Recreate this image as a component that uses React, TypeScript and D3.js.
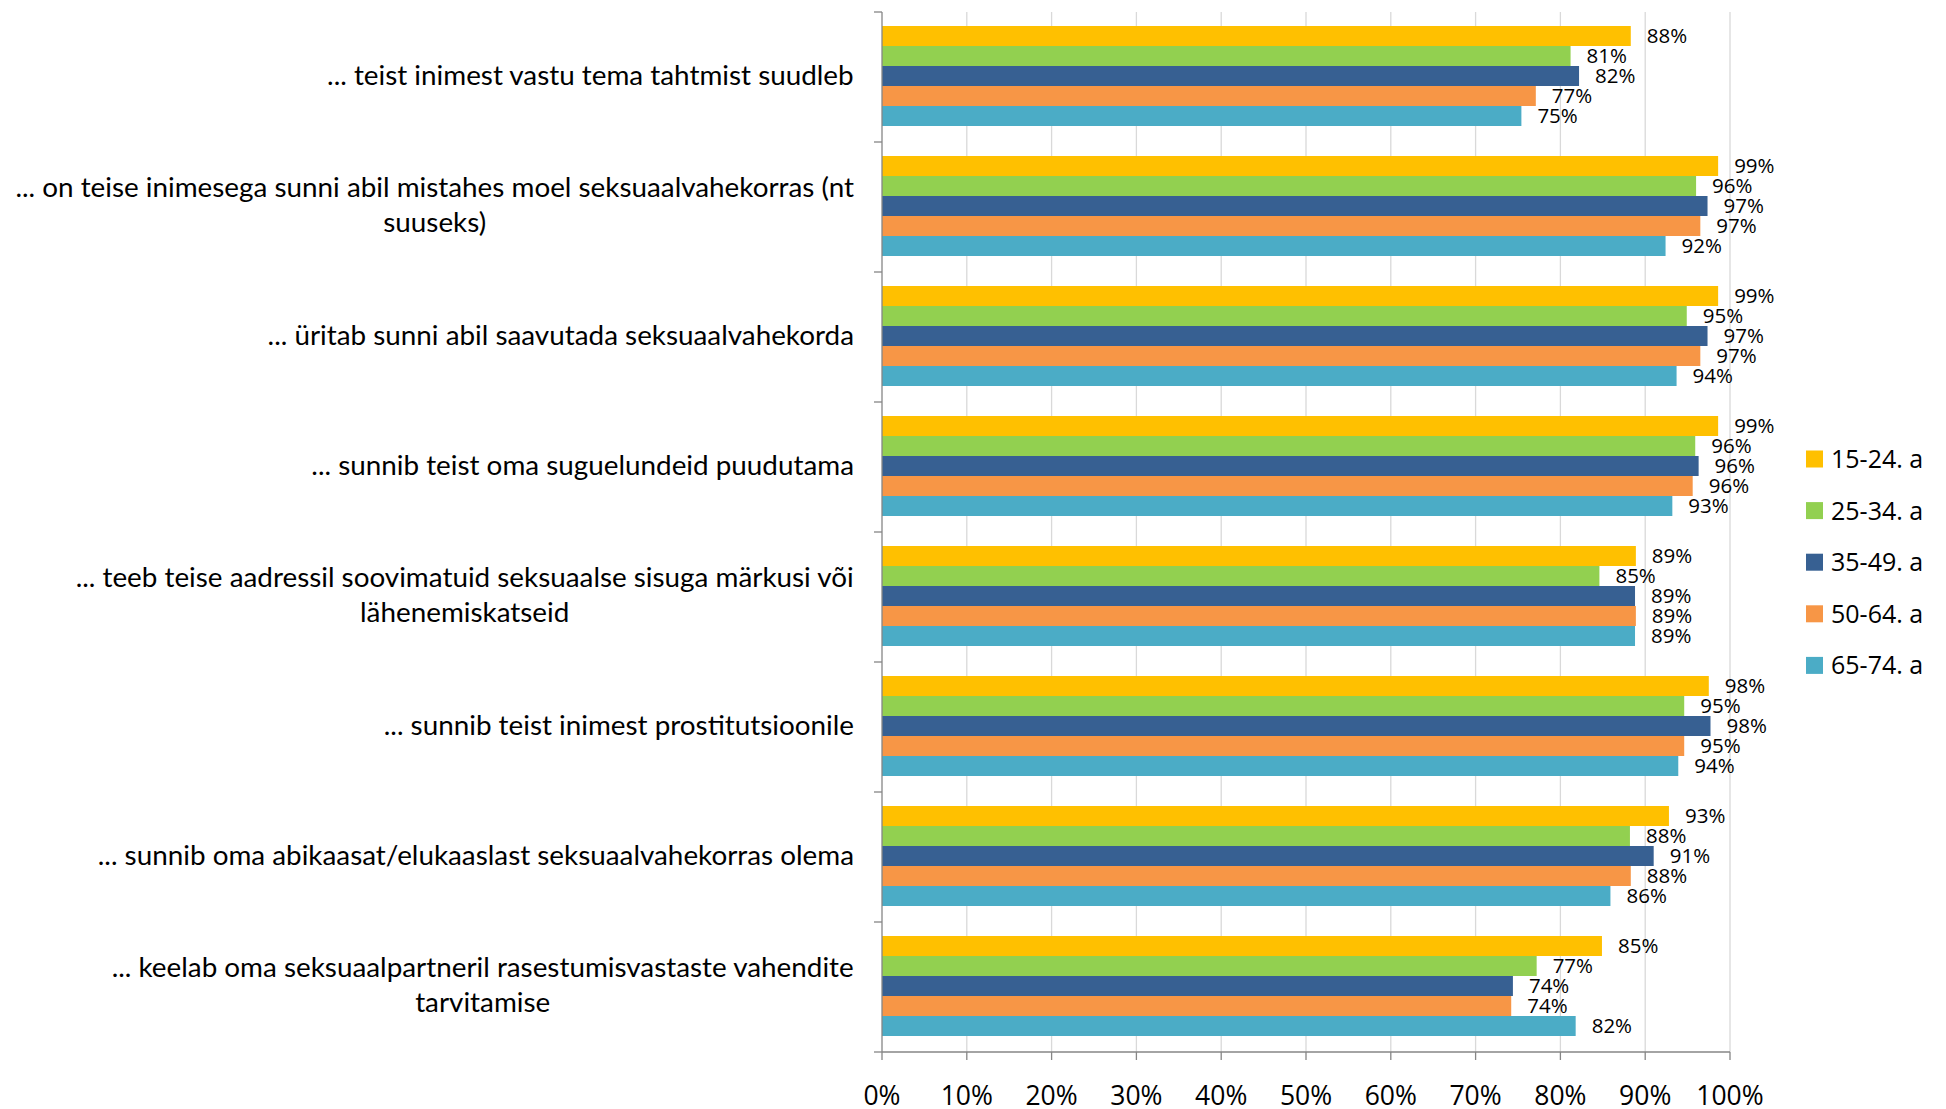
import React, { useMemo } from "react";
import * as d3 from "d3";

const categories: string[][] = [
  ["... teist inimest vastu tema tahtmist suudleb"],
  ["... on teise inimesega sunni abil mistahes moel seksuaalvahekorras (nt", "suuseks)"],
  ["... üritab sunni abil saavutada seksuaalvahekorda"],
  ["... sunnib teist oma suguelundeid puudutama"],
  ["... teeb teise aadressil soovimatuid seksuaalse sisuga märkusi või", "lähenemiskatseid"],
  ["... sunnib teist inimest prostitutsioonile"],
  ["... sunnib oma abikaasat/elukaaslast seksuaalvahekorras olema"],
  ["... keelab oma seksuaalpartneril rasestumisvastaste vahendite", "tarvitamise"],
];

const seriesNames = ["15-24. a", "25-34. a", "35-49. a", "50-64. a", "65-74. a"];
const seriesColors = ["#FFC000", "#92D050", "#376092", "#F79646", "#4BACC6"];

const age15_24 = [88.3, 98.6, 98.6, 98.6, 88.9, 97.5, 92.8, 84.9];
const age25_34 = [81.2, 96.0, 94.9, 95.9, 84.6, 94.6, 88.2, 77.2];
const age35_49 = [82.2, 97.35, 97.35, 96.3, 88.8, 97.7, 91.0, 74.4];
const age50_64 = [77.1, 96.5, 96.5, 95.6, 88.9, 94.6, 88.3, 74.2];
const age65_74 = [75.4, 92.4, 93.7, 93.2, 88.8, 93.9, 85.9, 81.8];

const seriesValues = [age15_24, age25_34, age35_49, age50_64, age65_74];
const xTicks = [0, 10, 20, 30, 40, 50, 60, 70, 80, 90, 100];

const FONT = "'Open Sans', 'Noto Sans', sans-serif";
const CAT_FONT = "Lato";
const CAT_TARGET_W = 839;

function measure(text: string, size: number, family: string): number {
  if (typeof document === "undefined") return text.length * size * 0.5;
  const c = document.createElement("canvas");
  const ctx = c.getContext("2d");
  if (!ctx) return text.length * size * 0.5;
  ctx.font = `${size}px '${family}'`;
  return ctx.measureText(text).width;
}

export default function App() {
  const W = 1946;
  const H = 1109;
  const left = 882;
  const right = 1730;
  const top = 12;
  const bottom = 1052;

  const x = d3.scaleLinear().domain([0, 100]).range([left, right]);
  const y = d3
    .scaleBand<number>()
    .domain(d3.range(categories.length))
    .range([top, bottom])
    .paddingInner(0)
    .paddingOuter(0);
  const inner = d3
    .scaleBand<number>()
    .domain(d3.range(seriesNames.length))
    .range([14, 114]);

  const catLabelRight = 854;
  const lineH = 35;

  const { catSize, labelWidths } = useMemo(() => {
    const base = 24;
    const longest = d3.max(categories.flat(), (l) => measure(l, base, CAT_FONT)) || 1;
    const size = Math.min(28, (base * CAT_TARGET_W) / longest);
    return {
      catSize: size,
      labelWidths: categories.map((lines) => Math.max(...lines.map((l) => measure(l, size, CAT_FONT)))),
    };
  }, []);

  const boundaries = d3.range(categories.length + 1).map((i) => top + i * y.bandwidth());

  return (
    <svg
      width={W}
      height={H}
      style={{ position: "absolute", left: 0, top: 0, background: "#fff" }}
      fontFamily={FONT}
    >
      {xTicks.slice(1).map((t) => (
        <line key={"g" + t} x1={x(t)} x2={x(t)} y1={top} y2={bottom} stroke="#D9D9D9" strokeWidth={1.3} />
      ))}

      {categories.map((_, ci) =>
        seriesValues.map((vals, si) => {
          const by = (y(ci) as number) + (inner(si) as number);
          return (
            <rect
              key={`b${ci}-${si}`}
              x={x(0)}
              y={by}
              width={x(vals[ci]) - x(0)}
              height={inner.bandwidth()}
              fill={seriesColors[si]}
            />
          );
        })
      )}

      {categories.map((_, ci) =>
        seriesValues.map((vals, si) => {
          const by = (y(ci) as number) + (inner(si) as number) + inner.bandwidth() / 2;
          return (
            <text
              key={`v${ci}-${si}`}
              x={x(vals[ci]) + 16}
              y={by}
              dy="0.36em"
              fontSize={20.5}
              fill="#000"
            >
              {Math.round(vals[ci])}%
            </text>
          );
        })
      )}

      <line x1={left} x2={left} y1={top} y2={bottom} stroke="#868686" strokeWidth={1.3} />
      {boundaries.map((b, i) => (
        <line key={"lt" + i} x1={left - 8} x2={left} y1={b} y2={b} stroke="#868686" strokeWidth={1.3} />
      ))}

      <line x1={left} x2={right} y1={bottom} y2={bottom} stroke="#868686" strokeWidth={1.3} />
      {xTicks.map((t) => (
        <line key={"bt" + t} x1={x(t)} x2={x(t)} y1={bottom} y2={bottom + 8} stroke="#868686" strokeWidth={1.3} />
      ))}
      {xTicks.map((t) => (
        <text key={"tl" + t} x={x(t)} y={1105} textAnchor="middle" fontSize={26.5} fill="#000">
          {t}%
        </text>
      ))}

      {categories.map((lines, ci) => {
        const cy = (y(ci) as number) + y.bandwidth() / 2 - 2.5;
        const cx = catLabelRight - labelWidths[ci] / 2;
        const n = lines.length;
        return lines.map((line, li) => (
          <text
            key={`c${ci}-${li}`}
            x={cx}
            y={cy + (li - (n - 1) / 2) * lineH}
            dy="0.36em"
            textAnchor="middle"
            fontSize={catSize}
            fontFamily={CAT_FONT}
            fill="#000"
          >
            {line}
          </text>
        ));
      })}

      {seriesNames.map((name, i) => {
        const ly = 459 + i * 51.6;
        return (
          <g key={"lg" + i}>
            <rect x={1806} y={ly - 8.5} width={17} height={17} fill={seriesColors[i]} />
            <text x={1831} y={ly} dy="0.36em" fontSize={25} fill="#000">
              {name}
            </text>
          </g>
        );
      })}
    </svg>
  );
}
